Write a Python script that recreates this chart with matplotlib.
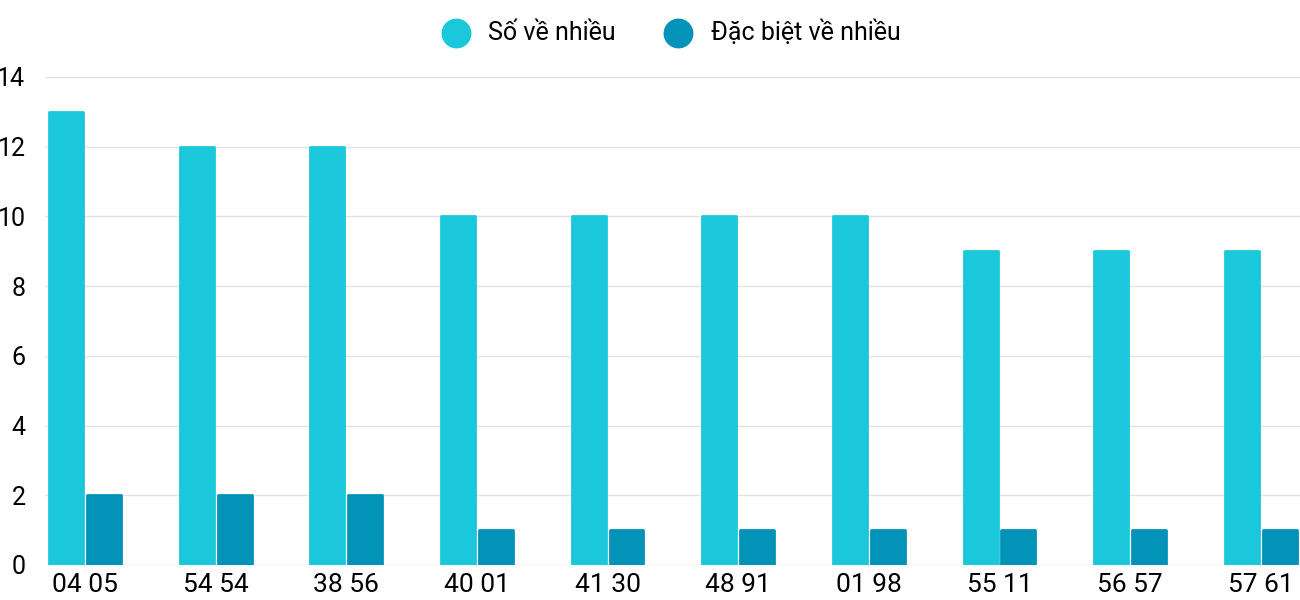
import matplotlib.pyplot as plt
import numpy as np

plt.rcParams['font.family'] = ['Roboto', 'DejaVu Sans']

labels = ["04 05", "54 54", "38 56", "40 01", "41 30", "48 91", "01 98", "55 11", "56 57", "57 61"]
so_ve = [13, 12, 12, 10, 10, 10, 10, 9, 9, 9]
dac_biet = [2, 2, 2, 1, 1, 1, 1, 1, 1, 1]

light = "#1bc8db"
dark = "#0493b8"

fig = plt.figure(figsize=(13, 6), dpi=100)
ax = fig.add_axes([45 / 1300, 35 / 600, 1255 / 1300, 488 / 600])

x = np.arange(len(labels))
w = 0.26
ax.bar(x - 0.145, so_ve, w, color=light, edgecolor=light, linewidth=2, joinstyle="round", zorder=3)
ax.bar(x + 0.145, dac_biet, w, color=dark, edgecolor=dark, linewidth=2, joinstyle="round", zorder=3)

ax.set_xlim(-0.306, 9.3)
ax.set_ylim(0, 14)
ax.set_yticks(range(0, 15, 2))
ax.set_xticks(x)
ax.set_xticklabels(labels, fontsize=19)
ax.tick_params(axis="y", labelsize=18, length=0, pad=14)
ax.tick_params(axis="x", length=0, pad=6)
ax.grid(axis="y", color="#e3e3e3", linewidth=1, zorder=0)
for s in ax.spines.values():
    s.set_visible(False)

h1 = ax.scatter([], [], s=420, color=light)
h2 = ax.scatter([], [], s=420, color=dark)
fig.legend([h1, h2], ["Số về nhiều", "Đặc biệt về nhiều"], loc="upper center",
           bbox_to_anchor=(0.512, 1.005), ncol=2, frameon=False, fontsize=18,
           handletextpad=0.3, columnspacing=1.5)

fig.savefig("out.png", dpi=100)
